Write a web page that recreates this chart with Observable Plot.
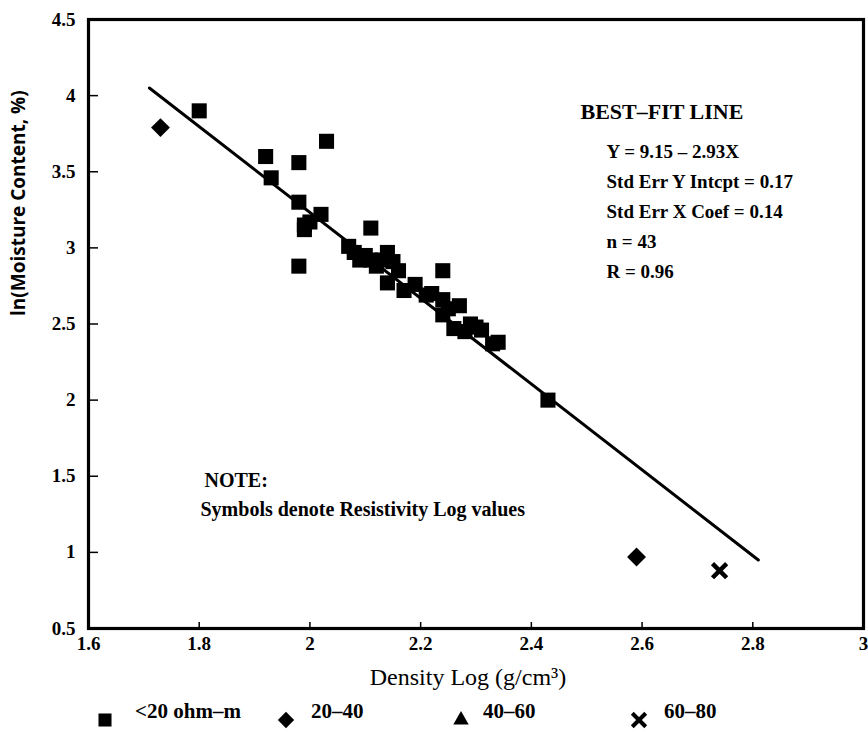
<!DOCTYPE html>
<html>
<head>
<meta charset="utf-8">
<script src="https://cdn.jsdelivr.net/npm/d3@7"></script>
<script src="https://cdn.jsdelivr.net/npm/@observablehq/plot@0.6"></script>
<style>
  html, body { margin: 0; padding: 0; background: #fff; }
  #wrap { position: relative; width: 868px; height: 743px; font-family: "Liberation Serif", "Times New Roman", serif; color: #000; overflow: hidden; }
  #legend { position: absolute; left: 0; top: 700px; width: 868px; height: 43px; }
  .item { position: absolute; top: 0; height: 43px; }
  .item svg { position: absolute; top: 9px; }
  .item span { position: absolute; top: -1px; font-size: 21px; font-weight: bold; white-space: nowrap; }
</style>
</head>
<body>
<div id="wrap">
  <div id="chart"></div>
  <div id="legend"></div>
</div>
<script>
// ---- data ----
const density = [
  1.80, 1.92, 1.93, 1.98, 2.03, 1.98, 2.02, 1.99, 2.00, 1.99,
  2.11, 1.98, 2.07, 2.08, 2.09, 2.11, 2.13, 2.14, 2.15, 2.12,
  2.14, 2.24, 2.17, 2.19, 2.21, 2.24, 2.22, 2.24, 2.26, 2.29,
  2.28, 2.33, 2.34, 2.27, 2.43, 2.30, 2.16, 2.10, 2.25, 2.31,
  1.73, 2.59, 2.74
];
const moisture = [
  3.90, 3.60, 3.46, 3.56, 3.70, 3.30, 3.22, 3.15, 3.17, 3.12,
  3.13, 2.88, 3.01, 2.97, 2.92, 2.92, 2.92, 2.97, 2.91, 2.88,
  2.77, 2.85, 2.72, 2.76, 2.69, 2.66, 2.70, 2.56, 2.47, 2.50,
  2.45, 2.37, 2.38, 2.62, 2.00, 2.48, 2.85, 2.95, 2.60, 2.46,
  3.79, 0.97, 0.88
];
const resistivity = [
  "<20 ohm–m","<20 ohm–m","<20 ohm–m","<20 ohm–m","<20 ohm–m","<20 ohm–m","<20 ohm–m","<20 ohm–m","<20 ohm–m","<20 ohm–m",
  "<20 ohm–m","<20 ohm–m","<20 ohm–m","<20 ohm–m","<20 ohm–m","<20 ohm–m","<20 ohm–m","<20 ohm–m","<20 ohm–m","<20 ohm–m",
  "<20 ohm–m","<20 ohm–m","<20 ohm–m","<20 ohm–m","<20 ohm–m","<20 ohm–m","<20 ohm–m","<20 ohm–m","<20 ohm–m","<20 ohm–m",
  "<20 ohm–m","<20 ohm–m","<20 ohm–m","<20 ohm–m","<20 ohm–m","<20 ohm–m","<20 ohm–m","<20 ohm–m","<20 ohm–m","<20 ohm–m",
  "20–40","20–40","60–80"
];
const classes = ["<20 ohm–m", "20–40", "40–60", "60–80"];
const classSymbols = ["square", "diamond2", "triangle", "times"];
const fitX = [1.71, 2.81];
const fitY = [4.05, 0.95];
const xTicks = [1.6, 1.8, 2, 2.2, 2.4, 2.6, 2.8, 3];
const yTicks = [0.5, 1, 1.5, 2, 2.5, 3, 3.5, 4, 4.5];
const xTitle = "Density Log (g/cm³)";
const yTitle = "ln(Moisture Content, %)";
const fitTitle = "BEST–FIT LINE";
const fitStats = ["Y = 9.15 – 2.93X", "Std Err Y Intcpt = 0.17", "Std Err X Coef = 0.14", "n = 43", "R = 0.96"];
const noteTitle = "NOTE:";
const noteText = "Symbols denote Resistivity Log values";

// ---- tables ----
const points = density.map((d, i) => ({x: d, y: moisture[i], cls: resistivity[i]}));
const fit = fitX.map((d, i) => ({x: d, y: fitY[i]}));
const filled = points.filter(p => classSymbols[classes.indexOf(p.cls)] !== "times");
const stroked = points.filter(p => classSymbols[classes.indexOf(p.cls)] === "times");
const fmt = d3.format("~g");
const serif = "'Liberation Serif', 'Times New Roman', serif";

const chart = Plot.plot({
  width: 868,
  height: 700,
  marginTop: 19,
  marginBottom: 72,
  marginLeft: 88,
  marginRight: 5,
  style: {fontFamily: serif, color: "#000", background: "#fff", overflow: "visible"},
  x: {domain: [1.6, 3]},
  y: {domain: [0.5, 4.5]},
  symbol: {domain: classes, range: classSymbols},
  marks: [
    Plot.frame({stroke: "#000", strokeWidth: 3.2}),
    Plot.axisX(xTicks, {tickSize: -6, tickPadding: 14, tickFormat: fmt, fontSize: 19, fontWeight: "bold", fontFamily: serif, strokeWidth: 1.5, label: null}),
    Plot.axisY(yTicks, {tickSize: -10, tickPadding: 23, tickFormat: fmt, fontSize: 19, fontWeight: "bold", fontFamily: serif, strokeWidth: 1.5, label: null}),
    Plot.line(fit, {x: "x", y: "y", stroke: "#000", strokeWidth: 3}),
    Plot.dot(filled, {x: "x", y: "y", symbol: "cls", fill: "#000", stroke: "none", r: 8.5}),
    Plot.dot(stroked, {x: "x", y: "y", symbol: "cls", fill: "none", stroke: "#000", strokeWidth: 4.5, r: 6.5}),
    Plot.text([xTitle], {frameAnchor: "bottom", dx: -8, dy: 56, fontSize: 24, fontFamily: serif, text: d => d}),
    Plot.text([yTitle], {frameAnchor: "left", dx: -70, dy: -8, rotate: -90, fontSize: 19, fontWeight: "bold", fontFamily: "'Open Sans', sans-serif", text: d => d}),
    Plot.text([fitTitle], {frameAnchor: "top-left", dx: 492, dy: 84, fontSize: 22, fontWeight: "bold", textAnchor: "start", text: d => d}),
    Plot.text([fitStats.join("\n")], {frameAnchor: "top-left", dx: 518, dy: 189, lineHeight: 1.58, fontSize: 19, fontWeight: "bold", textAnchor: "start", lineAnchor: "middle", text: d => d}),
    Plot.text([noteTitle], {frameAnchor: "top-left", dx: 116, dy: 453, fontSize: 20, fontWeight: "bold", textAnchor: "start", text: d => d}),
    Plot.text([noteText], {frameAnchor: "top-left", dx: 112, dy: 482, fontSize: 20, fontWeight: "bold", textAnchor: "start", text: d => d})
  ]
});
document.getElementById("chart").appendChild(chart);

// ---- legend ----
const legendMarkX = [105, 286, 461, 639];
const legendTextX = [135, 311, 483, 664];
const legend = document.getElementById("legend");
const symMap = {square: d3.symbolSquare, diamond2: d3.symbolDiamond2, triangle: d3.symbolTriangle2, times: d3.symbolTimes};
classes.forEach((c, i) => {
  const sym = classSymbols[i];
  const stroke = sym === "times";
  const path = d3.symbol(symMap[sym], stroke ? 120 : 170)();
  const mark = document.createElement("div");
  mark.className = "item";
  mark.style.left = (legendMarkX[i] - 11) + "px";
  mark.innerHTML = `<svg width="22" height="22" viewBox="-11 -11 22 22"><path d="${path}" fill="${stroke ? "none" : "#000"}" stroke="${stroke ? "#000" : "none"}" stroke-width="${stroke ? 4 : 0}"/></svg>`;
  legend.appendChild(mark);
  const label = document.createElement("div");
  label.className = "item";
  label.style.left = legendTextX[i] + "px";
  label.innerHTML = `<span>${c.replace("<", "&lt;")}</span>`;
  legend.appendChild(label);
});
</script>
</body>
</html>
